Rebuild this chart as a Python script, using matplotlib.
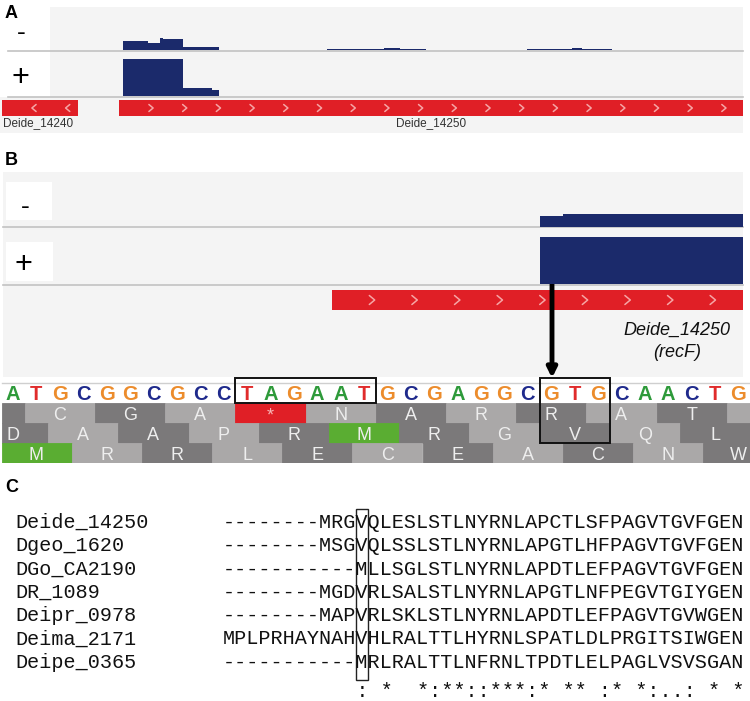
import numpy as np
import matplotlib.pyplot as plt
from matplotlib.patches import Rectangle

plt.rcParams['font.family'] = ['Liberation Sans', 'DejaVu Sans']

W, H = 750, 701

# panel A: read coverage along the locus (position, depth)
a_minus_edges = [123, 148, 160, 163, 183, 219, 327, 340, 384, 400, 426, 527, 572, 582, 612]
a_minus_depth = [9, 7.5, 12.5, 11, 3.5, 0, 1, 1.5, 2, 1, 0, 1.2, 2.5, 1.2]
a_plus_edges = [123, 183, 212, 219]
a_plus_depth = [37, 8.5, 6.5]
a_genes = ['Deide_14240', 'Deide_14250']
a_gene_start = [2, 119]
a_gene_end = [78, 743]
a_gene_strand = [-1, 1]
a_gene_label_x = [3, 396]

# panel B: zoom on the recF start
b_minus_edges = [540, 563, 743]
b_minus_depth = [10.5, 13]
b_plus_edges = [540, 743]
b_plus_depth = [47]
b_gene_start, b_gene_end = 332, 743

nucleotides = 'ATGCGGCGCCTAGAATGCGAGGCGTGCAACTG'
frame_start = [-2, -1, 0]
frame_aa = [' CGA*NARRAT ', 'DAAPRMRGVQL', 'MRRLECEACNW']
stop_box = (10, 15)
start_box = (23, 25)

# panel C: alignment
names = ['Deide_14250', 'Dgeo_1620', 'DGo_CA2190', 'DR_1089',
         'Deipr_0978', 'Deima_2171', 'Deipe_0365']
seqs = ['--------MRGVQLESLSTLNYRNLAPCTLSFPAGVTGVFGEN',
        '--------MSGVQLSSLSTLNYRNLAPGTLHFPAGVTGVFGEN',
        '-----------MLLSGLSTLNYRNLAPDTLEFPAGVTGVFGEN',
        '--------MGDVRLSALSTLNYRNLAPGTLNFPEGVTGIYGEN',
        '--------MAPVRLSKLSTLNYRNLAPDTLEFPAGVTGVWGEN',
        'MPLPRHAYNAHVHLRALTTLHYRNLSPATLDLPRGITSIWGEN',
        '-----------MRLRALTTLNFRNLTPDTLELPAGLVSVSGAN']
conservation = '           : *  *:**::***:* ** :* *:..: * *'
boxed_col = 11

NAVY = '#1b2a6b'
RED = '#e01f26'
CHEV = '#f6a5a5'
BG = '#f4f4f4'
LINE = '#c2c2c2'
nt_colors = {'A': '#2e9a3a', 'T': '#e02b2b', 'G': '#ec8c2c', 'C': '#1f2a8c'}
DARK, LIGHT, GREEN = '#7b797a', '#aaa8a8', '#5aad32'

fig = plt.figure(figsize=(7.5, 7.01), dpi=100)
base = fig.add_axes([0, 0, 1, 1])
base.set_xlim(0, W)
base.set_ylim(H, 0)
base.axis('off')


def px_axes(x0, y0, x1, y1):
    ax = fig.add_axes([x0 / W, 1 - y1 / H, (x1 - x0) / W, (y1 - y0) / H])
    ax.axis('off')
    ax.patch.set_alpha(0)
    return ax


def chevrons(xs, y, half, direction, color=CHEV):
    for x in xs:
        w = half * 0.6 * direction
        base.plot([x - w, x + w, x - w], [y - half, y, y + half],
                  color=color, lw=1.1, solid_capstyle='round')


# ---------------- panel A ----------------
base.add_patch(Rectangle((50, 7), 693, 90, color=BG, lw=0))
base.add_patch(Rectangle((0, 97), 743, 36, color=BG, lw=0))
base.text(5, 18, 'A', fontsize=13, fontweight='bold')
base.text(21, 33, '-', fontsize=19, ha='center', va='center')
base.text(20, 78, '+', fontsize=22, ha='center', va='center')

ax = px_axes(0, 7, W, 50)
ax.set_xlim(0, W)
ax.set_ylim(0, 43)
ax.stairs(a_minus_depth, a_minus_edges, fill=True, color=NAVY)
ax = px_axes(0, 53, W, 96)
ax.set_xlim(0, W)
ax.set_ylim(0, 43)
ax.stairs(a_plus_depth, a_plus_edges, fill=True, color=NAVY)
base.plot([8, 743], [50.5, 50.5], color=LINE, lw=1.2)
base.plot([8, 743], [96.5, 96.5], color=LINE, lw=1.2)

for name, s, e, strand, lx in zip(a_genes, a_gene_start, a_gene_end,
                                  a_gene_strand, a_gene_label_x):
    base.add_patch(Rectangle((s, 100), e - s, 16, color=RED, lw=0))
    chevrons(np.arange(s + 32, e - 8, 33.7), 108, 3.5, strand)
    base.text(lx, 126, name, fontsize=8.5, color='#333333')

# ---------------- panel B ----------------
base.text(5, 165, 'B', fontsize=13, fontweight='bold')
base.add_patch(Rectangle((3, 172), 740, 205, color=BG, lw=0))
base.add_patch(Rectangle((6, 182), 46, 38, color='white', lw=0))
base.add_patch(Rectangle((6, 242), 47, 39, color='white', lw=0))
base.text(25, 207, '-', fontsize=19, ha='center', va='center')
base.text(23, 265, '+', fontsize=22, ha='center', va='center')

ax = px_axes(0, 177, W, 227)
ax.set_xlim(0, W)
ax.set_ylim(0, 50)
ax.stairs(b_minus_depth, b_minus_edges, fill=True, color=NAVY)
ax = px_axes(0, 234, W, 284)
ax.set_xlim(0, W)
ax.set_ylim(0, 50)
ax.stairs(b_plus_depth, b_plus_edges, fill=True, color=NAVY)
base.plot([3, 743], [227, 227], color=LINE, lw=1.2)
base.plot([3, 743], [284.5, 284.5], color=LINE, lw=1.2)

base.add_patch(Rectangle((b_gene_start, 290), b_gene_end - b_gene_start, 20,
                         color=RED, lw=0))
chevrons(np.arange(372, 735, 42.6), 300, 4.5, 1)

base.text(677, 335, 'Deide_14250', fontsize=13, fontstyle='italic',
          ha='center', color='#111111')
base.text(677, 357, '(recF)', fontsize=13, fontstyle='italic',
          ha='center', color='#111111')

base.annotate('', xy=(552, 378), xytext=(552, 270),
              arrowprops=dict(arrowstyle='-|>', lw=3.5, color='black',
                              mutation_scale=14, shrinkA=0, shrinkB=0))

# sequence + three-frame translation, x in nucleotide index
step, x_first = 23.4, 13
seq_ax = px_axes(0, 383, W, 463)
seq_ax.set_xlim(-x_first / step, (W - x_first) / step)
seq_ax.set_ylim(4, 0)
last = len(nucleotides) - 0.5
seq_ax.plot([-0.45, last], [0, 0], color='#cfcfcf', lw=1, clip_on=False)
for i, nt in enumerate(nucleotides):
    seq_ax.text(i, 0.85, nt, fontsize=14.5, fontweight='bold',
                color=nt_colors[nt], ha='center', va='baseline')

for r, (start, aas) in enumerate(zip(frame_start, frame_aa)):
    for k, aa in enumerate(aas):
        s = start + 3 * k
        x0, x1 = max(s - 0.5, -0.45), min(s + 2.5, last)
        color = DARK if k % 2 == 0 else LIGHT
        if aa == 'M':
            color = GREEN
        elif aa == '*':
            color = RED
        seq_ax.add_patch(Rectangle((x0, r + 1), x1 - x0, 1, fc=color,
                                   ec=color, lw=0.6))
        if aa.strip():
            seq_ax.text(s + 1, r + 1.85, aa, fontsize=13,
                        color='#f7b5b5' if aa == '*' else '#eeeeee',
                        ha='center', va='baseline')

for (a, b), bottom in [(stop_box, 1.0), (start_box, 3.0)]:
    seq_ax.add_patch(Rectangle((a - 0.5, -0.25), b - a + 1, bottom + 0.25,
                               fill=False, ec='#111111', lw=1.4, clip_on=False,
                               zorder=5))

# ---------------- panel C ----------------
base.text(5, 492, 'C', fontsize=13, fontweight='bold')
mono = dict(family='Liberation Mono', fontsize=14.5, color='#111111',
            va='baseline')
char_w = 12.1
aln_x = 223
for i, (name, seq) in enumerate(zip(names, seqs)):
    y = 528 + 23.3 * i
    base.text(15, y, name, **mono)
    base.text(aln_x, y, seq, **mono)
base.text(aln_x, 697, conservation, **mono)
base.add_patch(Rectangle((aln_x + boxed_col * char_w, 509), char_w, 171,
                         fill=False, ec='#222222', lw=1))

fig.savefig('out.png', dpi=100, facecolor='white')
